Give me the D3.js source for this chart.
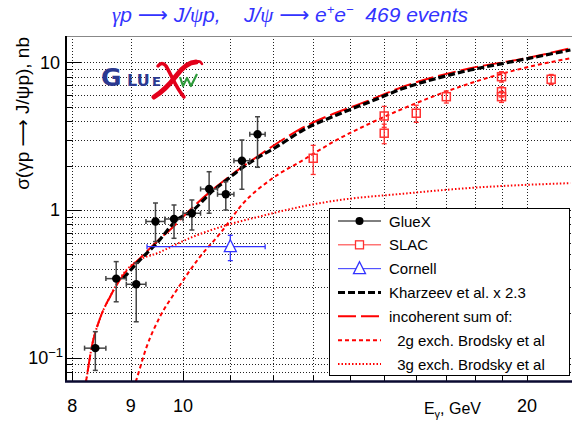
<!DOCTYPE html>
<html>
<head>
<meta charset="utf-8">
<script src="https://cdn.jsdelivr.net/npm/d3@7"></script>
<style>
  body { margin: 0; background: #fff; }
  svg { font-family: "Liberation Sans", Arial, sans-serif; }
</style>
</head>
<body>
<svg id="chart" width="572" height="421"></svg>
<script>
// ---- data ----
const gluexE      = [8.38, 8.74, 9.10, 9.46, 9.82, 10.18, 10.54, 10.90, 11.26, 11.62];
const gluexEErr   = [0.18, 0.18, 0.18, 0.18, 0.18, 0.18, 0.18, 0.18, 0.18, 0.18];
const gluexSigma  = [0.116, 0.343, 0.314, 0.836, 0.869, 0.950, 1.387, 1.277, 2.157, 3.254];
const gluexErrLo  = [0.034, 0.104, 0.139, 0.225, 0.226, 0.218, 0.437, 0.277, 0.776, 1.308];
const gluexErrHi  = [0.034, 0.104, 0.124, 0.279, 0.212, 0.219, 0.429, 0.277, 0.821, 1.026];

const slacE     = [13, 15, 15, 16, 17, 19, 19, 19, 21];
const slacSigma = [2.24, 4.33, 3.31, 4.52, 5.85, 7.99, 6.32, 5.85, 7.67];
const slacErr   = [0.5, 0.7, 0.5, 0.6, 0.55, 0.65, 0.5, 0.5, 0.6];

const cornellE     = [11.0];
const cornellELo   = [9.3];
const cornellEHi   = [11.8];
const cornellSigma = [0.564];
const cornellErr   = [0.11];

const kharzeevE     = [8.867, 9.17, 9.483, 9.874, 10.21, 10.56, 10.92, 11.22, 11.60, 12.08, 12.74, 13.63, 14.58, 15.60, 16.68, 17.84, 19.08, 20.41, 21.83];
const kharzeevSigma = [0.345, 0.459, 0.595, 0.856, 1.0, 1.297, 1.597, 1.886, 2.239, 2.683, 3.48, 4.40, 5.41, 6.67, 7.79, 8.87, 9.84, 10.91, 12.12];

const sumE     = [8.18, 8.225, 8.32, 8.46, 8.633, 8.867, 9.17, 9.483, 9.806, 10.21, 10.92, 11.60, 12.74, 14.58, 15.60, 17.84, 20.0, 21.83];
const sumSigma = [0.056, 0.0696, 0.1187, 0.1848, 0.2588, 0.363, 0.471, 0.610, 0.771, 1.053, 1.634, 2.285, 3.62, 5.557, 6.86, 9.11, 10.7, 12.44];

const g2E     = [9.01, 9.096, 9.294, 9.547, 9.874, 10.35, 10.78, 11.29, 11.92, 12.74, 13.63, 14.58, 15.60, 16.68, 17.84, 19.08, 20.41, 21.83];
const g2Sigma = [0.056, 0.0696, 0.1187, 0.1895, 0.2873, 0.483, 0.696, 1.110, 1.597, 2.181, 2.978, 3.864, 4.88, 6.006, 7.21, 8.43, 9.59, 10.64];

const g3E     = [8.18, 8.225, 8.32, 8.46, 8.633, 8.825, 9.017, 9.547, 10.21, 10.92, 11.68, 12.74, 13.63, 15.60, 17.84, 21.83];
const g3Sigma = [0.056, 0.0696, 0.1187, 0.1848, 0.2588, 0.352, 0.424, 0.519, 0.660, 0.790, 0.905, 1.06, 1.16, 1.29, 1.41, 1.52];

const xMajor = [8, 9, 10, 20];
const xMinor = [11, 12, 13, 14, 15, 16, 17, 18, 19];
const xGrid  = [8, 9, 10, 11, 12, 13, 14, 15, 16, 17, 18, 19, 20];
const yMajor = [0.1, 1, 10];
const yGrid  = [0.08, 0.09, 0.1, 0.2, 0.3, 0.4, 0.5, 0.6, 0.7, 0.8, 0.9, 1, 2, 3, 4, 5, 6, 7, 8, 9, 10];

const legendLabels = ["GlueX", "SLAC", "Cornell", "Kharzeev et al. x 2.3", "incoherent sum of:",
                      "\u00a02g exch. Brodsky et al", "\u00a03g exch. Brodsky et al"];

// ---- layout ----
let pLeft = 66, pRight = 572, pTop = 36, pBottom = 381;
let red = "#ff0000", blue = "#3333ff";

let x = d3.scaleLog().domain([7.899, 21.9]).range([pLeft, pRight]);
let y = d3.scaleLog().domain([0.0695, 15.07]).range([pBottom, pTop]);

let svg = d3.select("#chart");

svg.append("defs").append("clipPath").attr("id", "plotclip")
  .append("rect").attr("x", pLeft).attr("y", pTop).attr("width", pRight - pLeft).attr("height", pBottom - pTop);

// grid
let grid = svg.append("g").attr("stroke", "#222").attr("stroke-width", 1).attr("stroke-dasharray", "1,2");
grid.selectAll(".vg").data(xGrid).enter().append("line")
  .attr("x1", d => Math.round(x(d)) + 0.5).attr("x2", d => Math.round(x(d)) + 0.5)
  .attr("y1", pTop).attr("y2", pBottom);
grid.selectAll(".hg").data(yGrid).enter().append("line")
  .attr("y1", d => Math.round(y(d)) + 0.5).attr("y2", d => Math.round(y(d)) + 0.5)
  .attr("x1", pLeft).attr("x2", pRight);

// logo (GlueX)
let logo = svg.append("g");
logo.append("text").attr("x", 101).attr("y", 86).attr("font-size", 25).attr("font-weight", "bold")
  .attr("fill", "#2b3990").attr("font-family", "DejaVu Sans").text("G");
logo.append("text").attr("x", 127).attr("y", 86).attr("font-size", 16).attr("font-weight", "bold")
  .attr("fill", "#2b3990").attr("font-family", "DejaVu Sans").text("LU");
logo.append("text").attr("x", 152).attr("y", 86).attr("font-size", 13).attr("font-weight", "bold")
  .attr("fill", "#2b3990").attr("font-family", "DejaVu Sans").text("E");
logo.append("path").attr("d", "M154,97 C162,92 170,84 176,76 C182,68 188,62 196,62")
  .attr("fill", "none").attr("stroke", "#e3001b").attr("stroke-width", 5).attr("stroke-linecap", "round");
logo.append("path").attr("d", "M196,62 Q200,60 202,64")
  .attr("fill", "none").attr("stroke", "#e3001b").attr("stroke-width", 2.5).attr("stroke-linecap", "round");
logo.append("path").attr("d", "M158,66 Q162,61 166,66 C172,76 176,88 184,97")
  .attr("fill", "none").attr("stroke", "#e3001b").attr("stroke-width", 3.5).attr("stroke-linecap", "round");
logo.append("path").attr("d", "M180,77 L183,86 L187,78 L191,86 L197,74")
  .attr("fill", "none").attr("stroke", "#2e9a3a").attr("stroke-width", 2.2).attr("stroke-linejoin", "round");

// curves
let line = d3.line().x(d => x(d[0])).y(d => y(d[1])).curve(d3.curveMonotoneX);
let curves = svg.append("g").attr("clip-path", "url(#plotclip)").attr("fill", "none");
curves.append("path").datum(g3E.map((e, i) => [e, g3Sigma[i]]))
  .attr("d", line).attr("stroke", red).attr("stroke-width", 2).attr("stroke-dasharray", "1.5,2");
curves.append("path").datum(g2E.map((e, i) => [e, g2Sigma[i]]))
  .attr("d", line).attr("stroke", red).attr("stroke-width", 2).attr("stroke-dasharray", "4,3");
curves.append("path").datum(sumE.map((e, i) => [e, sumSigma[i]]))
  .attr("d", line).attr("stroke", red).attr("stroke-width", 2).attr("stroke-dasharray", "18,5");
curves.append("path").datum(kharzeevE.map((e, i) => [e, kharzeevSigma[i]]))
  .attr("d", line).attr("stroke", "#000").attr("stroke-width", 3.2).attr("stroke-dasharray", "7,3");

// error bar helper
function errBars(g, xs, xlo, xhi, ys, ylo, yhi, color, w) {
  xs.forEach((e, i) => {
    let cx = x(e), cy = y(ys[i]);
    let x0 = x(xlo[i]), x1 = x(xhi[i]), y0 = y(ylo[i]), y1 = y(yhi[i]);
    let s = g.append("g").attr("stroke", color).attr("stroke-width", w);
    if (x1 - x0 > 1) {
      s.append("line").attr("x1", x0).attr("x2", x1).attr("y1", cy).attr("y2", cy);
      s.append("line").attr("x1", x0).attr("x2", x0).attr("y1", cy - 2.5).attr("y2", cy + 2.5);
      s.append("line").attr("x1", x1).attr("x2", x1).attr("y1", cy - 2.5).attr("y2", cy + 2.5);
    }
    s.append("line").attr("x1", cx).attr("x2", cx).attr("y1", y0).attr("y2", y1);
    s.append("line").attr("x1", cx - 2.5).attr("x2", cx + 2.5).attr("y1", y0).attr("y2", y0);
    s.append("line").attr("x1", cx - 2.5).attr("x2", cx + 2.5).attr("y1", y1).attr("y2", y1);
  });
}

let pts = svg.append("g").attr("clip-path", "url(#plotclip)");

// SLAC
errBars(pts, slacE, slacE, slacE, slacSigma,
  slacSigma.map((s, i) => s - slacErr[i]), slacSigma.map((s, i) => s + slacErr[i]), "#ff3030", 1.3);
pts.selectAll(".slac").data(slacE).enter().append("rect")
  .attr("x", d => x(d) - 4).attr("y", (d, i) => y(slacSigma[i]) - 4)
  .attr("width", 8).attr("height", 8)
  .attr("fill", "none").attr("stroke", "#ff3030").attr("stroke-width", 1.5);

// Cornell
errBars(pts, cornellE, cornellELo, cornellEHi, cornellSigma,
  cornellSigma.map((s, i) => s - cornellErr[i]), cornellSigma.map((s, i) => s + cornellErr[i]), blue, 1.3);
pts.selectAll(".cornell").data(cornellE).enter().append("path")
  .attr("d", (d, i) => {
    let cx = x(d), cy = y(cornellSigma[i]);
    return `M${cx},${cy - 7}L${cx + 6},${cy + 5}L${cx - 6},${cy + 5}Z`;
  })
  .attr("fill", "#fff").attr("stroke", blue).attr("stroke-width", 1.3);

// GlueX
errBars(pts, gluexE, gluexE.map((e, i) => e - gluexEErr[i]), gluexE.map((e, i) => e + gluexEErr[i]),
  gluexSigma, gluexSigma.map((s, i) => s - gluexErrLo[i]), gluexSigma.map((s, i) => s + gluexErrHi[i]), "#444", 1.5);
pts.selectAll(".gluex").data(gluexE).enter().append("circle")
  .attr("cx", d => x(d)).attr("cy", (d, i) => y(gluexSigma[i])).attr("r", 4.2).attr("fill", "#000");

// frame
svg.append("line").attr("x1", pLeft).attr("x2", pRight).attr("y1", pTop + 0.5).attr("y2", pTop + 0.5)
  .attr("stroke", "#888").attr("stroke-width", 1);
svg.append("line").attr("x1", pLeft).attr("x2", pLeft).attr("y1", pTop).attr("y2", pBottom + 1)
  .attr("stroke", "#000").attr("stroke-width", 2);

// ticks
let ticks = svg.append("g").attr("stroke", "#000").attr("stroke-width", 1);
yGrid.forEach(v => {
  let len = yMajor.includes(v) ? 15 : 6;
  ticks.append("line").attr("x1", pLeft).attr("x2", pLeft + len)
    .attr("y1", Math.round(y(v)) + 0.5).attr("y2", Math.round(y(v)) + 0.5);
});
xMajor.forEach(v => ticks.append("line").attr("x1", Math.round(x(v)) + 0.5).attr("x2", Math.round(x(v)) + 0.5)
  .attr("y1", pBottom).attr("y2", pBottom - 10));
xMinor.forEach(v => ticks.append("line").attr("x1", Math.round(x(v)) + 0.5).attr("x2", Math.round(x(v)) + 0.5)
  .attr("y1", pBottom).attr("y2", pBottom - 5));

svg.append("line").attr("x1", pLeft - 1).attr("x2", pRight).attr("y1", pBottom + 0.5).attr("y2", pBottom + 0.5)
  .attr("stroke", "#0a0a30").attr("stroke-width", 2.5);

// tick labels
svg.selectAll(".xl").data(xMajor).enter().append("text")
  .attr("x", d => x(d)).attr("y", 412).attr("text-anchor", "middle").attr("font-size", 18).text(d => d);

let yl = svg.selectAll(".yl").data(yMajor).enter().append("text")
  .attr("x", d => d < 1 ? 63 : 60).attr("y", d => y(d) + 6.5).attr("text-anchor", "end").attr("font-size", 18);
yl.each(function(d) {
  let t = d3.select(this);
  if (d < 1) {
    t.append("tspan").text("10");
    t.append("tspan").attr("dy", -7).attr("font-size", 13).text("\u22121");
  } else t.text(d);
});

// axis titles
let xt = svg.append("text").attr("x", 481).attr("y", 414).attr("text-anchor", "end").attr("font-size", 16);
xt.append("tspan").text("E");
xt.append("tspan").attr("dy", 4).attr("font-size", 11).text("\u03b3");
xt.append("tspan").attr("dy", -4).text(", GeV");

let ytl = svg.append("text").attr("transform", "translate(29,37) rotate(-90)").attr("text-anchor", "end")
  .attr("font-size", 19);
ytl.append("tspan").text("\u03c3(\u03b3p ");
ytl.append("tspan").attr("font-family", "DejaVu Sans").text("\u27f6");
ytl.append("tspan").text(" J/\u03c8p), nb");

// title
let title = svg.append("text").attr("x", 290).attr("y", 22).attr("text-anchor", "middle")
  .attr("font-size", 21).attr("font-style", "italic").attr("fill", blue);
title.append("tspan").attr("font-family", "Liberation Serif").text("\u03b3");
title.append("tspan").text("p ");
title.append("tspan").attr("font-family", "DejaVu Sans").attr("font-style", "normal").text("\u27f6");
title.append("tspan").text(" J/");
title.append("tspan").attr("font-family", "Liberation Serif").text("\u03c8");
title.append("tspan").text("p,\u00a0\u00a0\u00a0\u00a0J/");
title.append("tspan").attr("font-family", "Liberation Serif").text("\u03c8");
title.append("tspan").text(" ");
title.append("tspan").attr("font-family", "DejaVu Sans").attr("font-style", "normal").text("\u27f6");
title.append("tspan").text(" e");
title.append("tspan").attr("dy", -8).attr("font-size", 13).text("+");
title.append("tspan").attr("dy", 8).text("e");
title.append("tspan").attr("dy", -8).attr("font-size", 13).text("\u2212");
title.append("tspan").attr("dy", 8).text("\u00a0\u00a0469 events");

// legend
let lg = svg.append("g");
lg.append("rect").attr("x", 329.5).attr("y", 208.5).attr("width", 240).attr("height", 167)
  .attr("fill", "#fff").attr("stroke", "#000").attr("stroke-width", 1);
let rowY = d3.scalePoint().domain(d3.range(legendLabels.length)).range([221, 364]);
let styles = [
  {c: "#000", w: 1, dash: null},
  {c: "#ff3030", w: 1, dash: null},
  {c: blue, w: 1, dash: null},
  {c: "#000", w: 3, dash: "7,3"},
  {c: red, w: 2, dash: "18,5"},
  {c: red, w: 2, dash: "4,3"},
  {c: red, w: 2, dash: "1.5,2"}
];
legendLabels.forEach((lab, i) => {
  let yy = rowY(i), st = styles[i];
  lg.append("line").attr("x1", 338).attr("x2", 381).attr("y1", yy).attr("y2", yy)
    .attr("stroke", st.c).attr("stroke-width", st.w).attr("stroke-dasharray", st.dash);
  lg.append("text").attr("x", i >= 5 ? 393 : 389).attr("y", yy + 5.5).attr("font-size", 15).text(lab);
});
lg.append("circle").attr("cx", 359.5).attr("cy", rowY(0)).attr("r", 4).attr("fill", "#000");
lg.append("rect").attr("x", 355.5).attr("y", rowY(1) - 4).attr("width", 8).attr("height", 8)
  .attr("fill", "#fff").attr("stroke", "#ff3030").attr("stroke-width", 1.3);
lg.append("path").attr("d", `M359.5,${rowY(2) - 7}L365.5,${rowY(2) + 5}L353.5,${rowY(2) + 5}Z`)
  .attr("fill", "#fff").attr("stroke", blue).attr("stroke-width", 1.3);
</script>
</body>
</html>
